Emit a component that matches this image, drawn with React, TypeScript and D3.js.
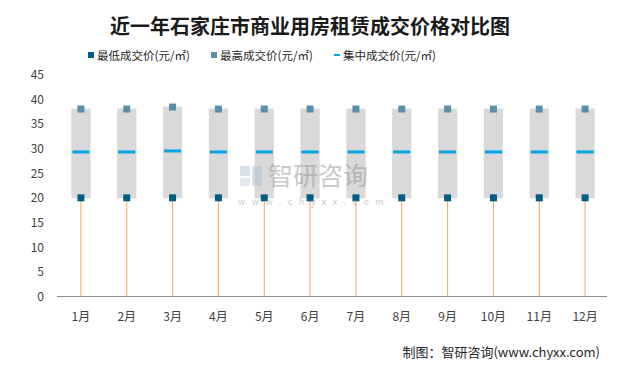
import * as d3 from "d3";
import { useEffect, useRef } from "react";

const months = ["1月", "2月", "3月", "4月", "5月", "6月", "7月", "8月", "9月", "10月", "11月", "12月"];
const minPrice = [20, 20, 20, 20, 20, 20, 20, 20, 20, 20, 20, 20];
const maxPrice = [38, 38, 38.4, 38, 38, 38, 38, 38, 38, 38, 38, 38];
const midPrice = [29.3, 29.3, 29.5, 29.3, 29.3, 29.3, 29.3, 29.3, 29.3, 29.3, 29.3, 29.3];
const yTicks = [0, 5, 10, 15, 20, 25, 30, 35, 40, 45];
const legendItems = ["最低成交价(元/㎡)", "最高成交价(元/㎡)", "集中成交价(元/㎡)"];

const W = 617;
const H = 371;
const FONT = "'Noto Sans CJK SC', 'Noto Sans', sans-serif";

const App = () => {
  const ref = useRef<SVGSVGElement>(null);

  useEffect(() => {
    const svg = d3.select(ref.current);
    svg.selectAll("*").remove();

    const x = d3.scaleBand().domain(months).range([58, 608]).padding(0);
    const y = d3.scaleLinear().domain([0, 45]).range([296.5, 74.5]);
    const cx = (m: string) => (x(m) as number) + x.bandwidth() / 2;

    // фон и рамка
    svg.append("rect").attr("width", W).attr("height", H).attr("fill", "#fff");
    svg.append("rect")
      .attr("x", 4.5).attr("y", 4.5).attr("width", 605).attr("height", 362)
      .attr("fill", "none").attr("stroke", "#a6a6a6").attr("stroke-dasharray", "2,1");

    // заголовок
    svg.append("text")
      .attr("x", 310).attr("y", 34)
      .attr("text-anchor", "middle")
      .style("font-family", FONT).style("font-size", "20px").style("font-weight", "bold")
      .attr("fill", "#1a1a1a")
      .text("近一年石家庄市商业用房租赁成交价格对比图");

    // легенда
    const lg = svg.append("g").style("font-family", FONT).style("font-size", "11.5px");
    const lx = [88, 211, 334];
    lg.append("rect").attr("x", lx[0]).attr("y", 52).attr("width", 6).attr("height", 6).attr("fill", "#005e85");
    lg.append("rect").attr("x", lx[1]).attr("y", 52).attr("width", 6).attr("height", 6).attr("fill", "#5b8fa8");
    lg.append("rect").attr("x", lx[2]).attr("y", 54).attr("width", 6).attr("height", 2).attr("fill", "#00a5e3");
    legendItems.forEach((t, i) => {
      lg.append("text").attr("x", lx[i] + 9).attr("y", 60).attr("fill", "#262626").text(t);
    });

    // ось Y
    svg.append("g")
      .selectAll("text")
      .data(yTicks)
      .enter()
      .append("text")
      .attr("x", 44).attr("y", d => y(d) + 4.5)
      .attr("text-anchor", "end")
      .style("font-family", FONT).style("font-size", "12px")
      .attr("fill", "#404040")
      .text(d => d);

    // ось X
    svg.append("line")
      .attr("x1", 57).attr("x2", 607).attr("y1", y(0)).attr("y2", y(0))
      .attr("stroke", "#8c8c8c").attr("stroke-width", 1);
    svg.append("g")
      .selectAll("text")
      .data(months)
      .enter()
      .append("text")
      .attr("x", d => cx(d)).attr("y", 321)
      .attr("text-anchor", "middle")
      .style("font-family", FONT).style("font-size", "12px")
      .attr("fill", "#404040")
      .text(d => d);

    const boxW = x.bandwidth() * 0.42;

    // серые полосы
    svg.append("g")
      .selectAll("rect")
      .data(months)
      .enter()
      .append("rect")
      .attr("x", d => cx(d) - boxW / 2)
      .attr("y", (d, i) => y(maxPrice[i]) - 0.5)
      .attr("width", boxW)
      .attr("height", (d, i) => y(minPrice[i]) - y(maxPrice[i]) + 1)
      .attr("fill", "#d9d9d9");

    // линии вниз
    svg.append("g")
      .selectAll("line")
      .data(months)
      .enter()
      .append("line")
      .attr("x1", d => cx(d)).attr("x2", d => cx(d))
      .attr("y1", (d, i) => y(minPrice[i])).attr("y2", y(0))
      .attr("stroke", "#f4a55c").attr("stroke-width", 1);

    // медиана
    svg.append("g")
      .selectAll("rect")
      .data(months)
      .enter()
      .append("rect")
      .attr("x", d => cx(d) - 8.5)
      .attr("y", (d, i) => y(midPrice[i]) - 1.5)
      .attr("width", 17).attr("height", 3)
      .attr("fill", "#00a5e3");

    // максимум
    svg.append("g")
      .selectAll("rect")
      .data(months)
      .enter()
      .append("rect")
      .attr("x", d => cx(d) - 3.5)
      .attr("y", (d, i) => y(maxPrice[i]) - 3.5)
      .attr("width", 7).attr("height", 7)
      .attr("fill", "#5b8fa8");

    // минимум
    svg.append("g")
      .selectAll("rect")
      .data(months)
      .enter()
      .append("rect")
      .attr("x", d => cx(d) - 3.5)
      .attr("y", (d, i) => y(minPrice[i]) - 3.5)
      .attr("width", 7).attr("height", 7)
      .attr("fill", "#005e85");

    // водяной знак поверх
    const wm = svg.append("g").attr("opacity", 0.45);
    wm.append("rect").attr("x", 240).attr("y", 166).attr("width", 10).attr("height", 10).attr("fill", "#a9bcd6");
    wm.append("rect").attr("x", 252).attr("y", 166).attr("width", 10).attr("height", 20).attr("fill", "#a9bcd6");
    wm.append("rect").attr("x", 240).attr("y", 178).attr("width", 10).attr("height", 8).attr("fill", "#c4d0e0");
    wm.append("text").attr("x", 268).attr("y", 185)
      .style("font-family", FONT).style("font-size", "25px").attr("fill", "#8a8a8a").text("智研咨询");
    wm.append("text").attr("x", 238).attr("y", 205)
      .style("font-family", FONT).style("font-size", "9px").style("letter-spacing", "6.5px")
      .attr("fill", "#8a8a8a").text("www.chyxx.com");

    // источник
    svg.append("text")
      .attr("x", 600).attr("y", 357)
      .attr("text-anchor", "end")
      .style("font-family", FONT).style("font-size", "13px")
      .attr("fill", "#262626")
      .text("制图：智研咨询(www.chyxx.com)");
  }, []);

  return <svg ref={ref} width={W} height={H} style={{ display: "block", margin: "-8px" }}></svg>;
};

export default App;
